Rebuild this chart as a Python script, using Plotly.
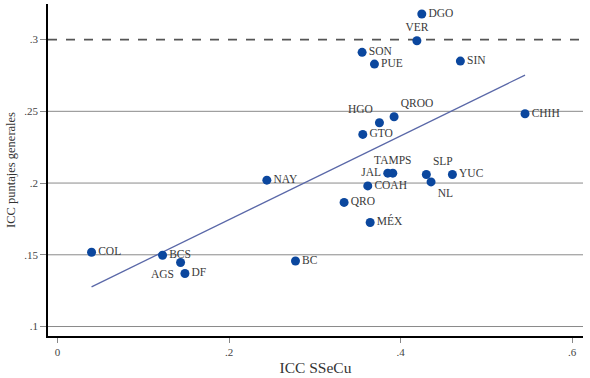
import numpy as np
import plotly.graph_objects as go

states = ["DGO", "VER", "SON", "PUE", "SIN", "CHIH", "QROO", "HGO", "GTO",
          "TAMPS", "JAL", "SLP", "YUC", "NL", "COAH", "NAY", "QRO", "MÉX",
          "BC", "COL", "BCS", "AGS", "DF"]
icc_ssecu = [0.4247, 0.419, 0.3551, 0.3695, 0.4697, 0.5451, 0.3924, 0.3753, 0.3559,
             0.3909, 0.385, 0.430, 0.4604, 0.4355, 0.3617, 0.244, 0.3341, 0.3645,
             0.2774, 0.0396, 0.1224, 0.1434, 0.1485]
icc_general = [0.3178, 0.2992, 0.2911, 0.2829, 0.285, 0.2483, 0.2462, 0.242, 0.2339,
               0.2069, 0.2069, 0.206, 0.206, 0.2008, 0.198, 0.202, 0.1865, 0.1725,
               0.1457, 0.1518, 0.1497, 0.1446, 0.137]
label_pos = ["middle right", "top center", "middle right", "middle right", "middle right",
             "middle right", "top right", "top left", "middle right",
             "top center", "middle left", "top right", "middle right", "bottom right",
             "middle right", "middle right", "middle right", "middle right",
             "middle right", "middle right", "middle right", "bottom left", "middle right"]

x_ticks = [0, 0.2, 0.4, 0.6]
x_ticktext = ["0", ".2", ".4", ".6"]
y_ticks = [0.1, 0.15, 0.2, 0.25, 0.3]
y_ticktext = [".1", ".15", ".2", ".25", ".3"]
ref_line = 0.3

FONT = "Liberation Serif"

x = np.array(icc_ssecu)
y = np.array(icc_general)
slope, intercept = np.polyfit(x, y, 1)
fit_x = np.array([x.min(), x.max()])
fit_y = intercept + slope * fit_x

fig = go.Figure()

fig.add_trace(go.Scatter(
    x=fit_x, y=fit_y, mode="lines",
    line=dict(color="#5a68a8", width=1.3),
    hoverinfo="skip", showlegend=False,
))

fig.add_trace(go.Scatter(
    x=icc_ssecu, y=icc_general, mode="markers+text",
    text=states, textposition=label_pos,
    textfont=dict(family=FONT, size=11.5, color="#3a3a3a"),
    marker=dict(color="#0b479e", size=9),
    showlegend=False,
))

shapes = []
for v in y_ticks:
    if v == ref_line:
        continue
    shapes.append(dict(type="line", xref="paper", yref="y", x0=0, x1=1, y0=v, y1=v,
                       line=dict(color="#8a8a8a", width=1), layer="below"))
shapes.append(dict(type="line", xref="paper", yref="y", x0=0, x1=1, y0=ref_line, y1=ref_line,
                   line=dict(color="#555555", width=1.8, dash="dash"), layer="below"))

fig.update_layout(
    width=590, height=378,
    margin=dict(l=48, r=7, t=4, b=42),
    paper_bgcolor="white", plot_bgcolor="white",
    font=dict(family=FONT, color="#333333"),
    shapes=shapes,
    hovermode=False,
    xaxis=dict(
        range=[-0.0112, 0.6127],
        tickvals=x_ticks, ticktext=x_ticktext,
        showgrid=False, zeroline=False,
        showline=True, linecolor="black", linewidth=1.5,
        ticks="outside", ticklen=5, tickcolor="#888888",
        tickfont=dict(family=FONT, size=11, color="#444444"),
        title=dict(text="ICC SSeCu", font=dict(family=FONT, size=15.5, color="#333333"), standoff=5),
    ),
    yaxis=dict(
        range=[0.0934, 0.3248],
        tickvals=y_ticks, ticktext=y_ticktext,
        showgrid=False, zeroline=False,
        showline=True, linecolor="black", linewidth=1.5,
        ticks="outside", ticklen=6, tickcolor="#888888",
        tickfont=dict(family=FONT, size=11, color="#444444"),
        title=dict(text="ICC puntajes generales", font=dict(family=FONT, size=12.5, color="#333333"), standoff=6),
    ),
)

fig.write_html("out.html", config={"displayModeBar": False},
               post_script="document.body.style.margin='0';document.body.style.overflow='hidden';")
